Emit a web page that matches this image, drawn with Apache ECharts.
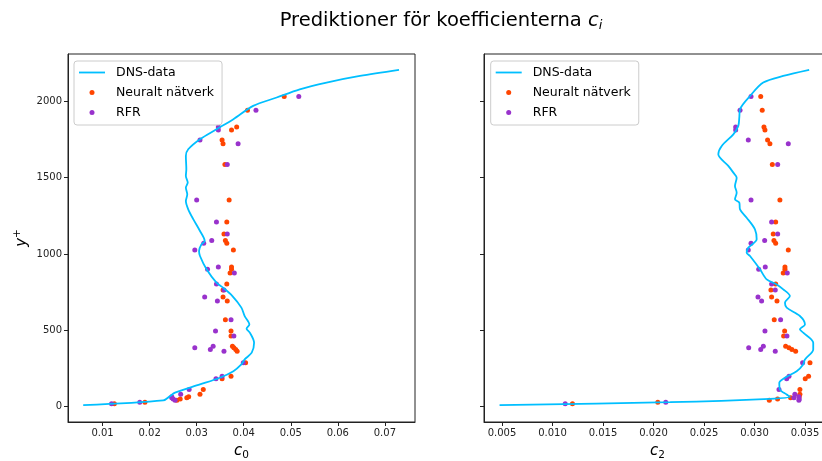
<!DOCTYPE html>
<html>
<head>
<meta charset="utf-8">
<script src="https://cdn.jsdelivr.net/npm/echarts@6/dist/echarts.min.js"></script>
<style>
  html, body { margin: 0; padding: 0; background: #fff; }
  #chart { width: 822px; height: 461px; }
</style>
</head>
<body>
<div id="chart"></div>
<script>
// Test points: y+ positions shared by both coefficient panels
const yPlus = [20, 30, 42, 50, 58, 66, 81, 113, 183, 200, 288, 364, 375, 386, 396, 463, 496, 570,
  692, 718, 764, 804, 876, 900, 915, 1026, 1070, 1088, 1131, 1210, 1354, 1586, 1723, 1747, 1813, 1832, 1942, 2031];

// Predictions of c0
const c0Neural = [0.0125, 0.0190, 0.0258, 0.0265, 0.0279, 0.0283, 0.0307, 0.0314, 0.0354, 0.0373, 0.0404,
  0.0386, 0.0383, 0.0379, 0.0376, 0.0373, 0.0373, 0.0361, 0.0365, 0.0356, 0.0356, 0.0364, 0.0371, 0.0374,
  0.0374, 0.0378, 0.0364, 0.0361, 0.0358, 0.0364, 0.0369, 0.0360, 0.0356, 0.0354, 0.0374, 0.0385, 0.0408, 0.0486];
const c0Rfr = [0.0119, 0.0179, 0.0254, 0.0250, 0.0247, 0.0247, 0.0266, 0.0284, 0.0341, 0.0354, 0.0399,
  0.0358, 0.0329, 0.0296, 0.0335, 0.0379, 0.0340, 0.0373, 0.0344, 0.0317, 0.0358, 0.0342, 0.0380, 0.0323,
  0.0346, 0.0296, 0.0315, 0.0332, 0.0365, 0.0342, 0.0300, 0.0365, 0.0388, 0.0307, 0.0346, 0.0346, 0.0426, 0.0517];

// Predictions of c2
const c2Neural = [0.01198, 0.02043, 0.03147, 0.03229, 0.03358, 0.03443, 0.03450, 0.03450, 0.03503, 0.03536, 0.03550,
  0.03408, 0.03371, 0.03342, 0.03309, 0.03289, 0.03299, 0.03196, 0.03223, 0.03170, 0.03163, 0.03210, 0.03285, 0.03302,
  0.03302, 0.03335, 0.03210, 0.03193, 0.03186, 0.03210, 0.03252, 0.03177, 0.03153, 0.03130, 0.03104, 0.03094, 0.03077, 0.03062];
const c2Rfr = [0.01126, 0.02122, 0.03440, 0.03443, 0.03391, 0.03440, 0.03400, 0.03243, 0.03319, 0.03342, 0.03477,
  0.03206, 0.03062, 0.02943, 0.03088, 0.03322, 0.03104, 0.03259, 0.03071, 0.03035, 0.03206, 0.03170, 0.03325, 0.03042,
  0.03107, 0.02939, 0.02966, 0.03101, 0.03230, 0.03170, 0.02966, 0.03230, 0.03335, 0.02939, 0.02814, 0.02814, 0.02857, 0.02966];

// DNS reference profiles
const dnsY0 = [10, 41, 69, 92, 146, 190, 233, 277, 310, 354, 419, 485, 511, 539, 594, 649, 725, 780, 813, 900, 987,
  1020, 1063, 1085, 1151, 1227, 1293, 1347, 1391, 1435, 1468, 1511, 1555, 1642, 1686, 1752, 1817, 1883, 1970, 2025,
  2079, 2123, 2166, 2206];
const dnsC0 = [0.00588, 0.0229, 0.0243, 0.0254, 0.0307, 0.0349, 0.0378, 0.0395, 0.0402, 0.0417, 0.0422, 0.0413,
  0.0406, 0.0412, 0.0402, 0.0395, 0.0376, 0.0356, 0.0342, 0.0321, 0.0307, 0.0305, 0.0310, 0.0317, 0.0307, 0.0293,
  0.0282, 0.0277, 0.0280, 0.0277, 0.0281, 0.0277, 0.0278, 0.0277, 0.0282, 0.0307, 0.0342, 0.0378, 0.0420, 0.0470,
  0.0519, 0.0576, 0.0647, 0.0730];
const dnsY2 = [10, 30, 52, 65, 80, 113, 157, 190, 233, 277, 310, 375, 419, 485, 507, 539, 594, 649, 681, 725, 769,
  801, 834, 900, 987, 1009, 1042, 1096, 1162, 1238, 1293, 1337, 1359, 1402, 1446, 1500, 1533, 1577, 1653, 1708,
  1784, 1839, 1894, 1948, 2035, 2123, 2166, 2206];
const dnsC2 = [0.00476, 0.02165, 0.03154, 0.03351, 0.03319, 0.03252, 0.03246, 0.03302, 0.03418, 0.03483, 0.03500,
  0.03582, 0.03582, 0.03483, 0.03450, 0.03500, 0.03450, 0.03319, 0.03302, 0.03351, 0.03285, 0.03220, 0.03121,
  0.03055, 0.02956, 0.02923, 0.02940, 0.03022, 0.03005, 0.02923, 0.02857, 0.02850, 0.02807, 0.02824, 0.02807,
  0.02824, 0.02791, 0.02741, 0.02642, 0.02676, 0.02791, 0.02840, 0.02850, 0.02857, 0.02956, 0.03087, 0.03285, 0.03542];

// Tick values
const yTicks = [0, 500, 1000, 1500, 2000];
const c0Ticks = [0.01, 0.02, 0.03, 0.04, 0.05, 0.06, 0.07];
const c2Ticks = [0.005, 0.010, 0.015, 0.020, 0.025, 0.030, 0.035];

const FONT = 'DejaVu Sans';
const INK = '#222';
const COL_DNS = '#00BFFF';
const COL_NN = '#FF4500';
const COL_RFR = '#9932CC';

const zip = (xs, ys) => xs.map((x, i) => [x, ys[i]]);

function xAxisFor(grid, min, max, ticks, digits, sub) {
  return {
    type: 'value', gridIndex: grid, min: min, max: max,
    name: '{i|c}{s|' + sub + '}', nameLocation: 'middle', nameGap: 19,
    nameTextStyle: {
      rich: {
        i: { fontFamily: FONT, fontStyle: 'italic', fontSize: 15, color: '#000' },
        s: { fontFamily: FONT, fontSize: 10.5, color: '#000', padding: [9, 0, 0, 0] }
      }
    },
    splitLine: { show: false },
    axisLine: { show: true, onZero: false, lineStyle: { color: INK, width: 1 } },
    axisTick: { show: true, length: 4, customValues: ticks, lineStyle: { color: INK } },
    axisLabel: {
      customValues: ticks, margin: 6, fontFamily: FONT, fontSize: 10, color: INK,
      formatter: v => v.toFixed(digits)
    }
  };
}

function yAxisFor(grid, withLabels) {
  const ax = {
    type: 'value', gridIndex: grid, min: -100, max: 2310,
    splitLine: { show: false },
    axisLine: { show: true, onZero: false, lineStyle: { color: INK, width: 1 } },
    axisTick: { show: true, length: 4, customValues: yTicks, lineStyle: { color: INK } },
    axisLabel: {
      show: withLabels, customValues: yTicks, margin: 6, fontFamily: FONT, fontSize: 10, color: INK,
      formatter: v => String(Math.round(v))
    }
  };
  if (withLabels) {
    ax.name = '{i|y}{p|+}';
    ax.nameLocation = 'middle';
    ax.nameGap = 36;
    ax.nameRotate = 90;
    ax.nameTextStyle = {
      rich: {
        i: { fontFamily: FONT, fontStyle: 'italic', fontSize: 15, color: '#000' },
        p: { fontFamily: FONT, fontSize: 10.5, color: '#000', padding: [0, 0, 9, 0] }
      }
    };
  }
  return ax;
}

function legendAt(left) {
  return {
    left: left, top: 61, orient: 'vertical',
    padding: [4, 8, 5, 5],
    itemWidth: 26, itemHeight: 5, itemGap: 5,
    symbolKeepAspect: true,
    backgroundColor: 'rgba(255,255,255,0.8)',
    borderColor: '#cccccc', borderWidth: 1, borderRadius: 3,
    textStyle: { fontFamily: FONT, fontSize: 12.5, color: '#000', lineHeight: 15, padding: [0, 0, 0, 6] },
    data: [
      { name: 'DNS-data', icon: 'path://M0,0H26V1.8H0Z' },
      { name: 'Neuralt nätverk', icon: 'circle' },
      { name: 'RFR', icon: 'circle' }
    ],
    selectedMode: false
  };
}

function panelSeries(idx, dnsX, dnsY, nn, rfr) {
  return [
    {
      name: 'DNS-data', type: 'line', xAxisIndex: idx, yAxisIndex: idx,
      data: zip(dnsX, dnsY), showSymbol: false, smooth: 0.3,
      lineStyle: { color: COL_DNS, width: 1.8 }, itemStyle: { color: COL_DNS },
      animation: false
    },
    {
      name: 'Neuralt nätverk', type: 'scatter', xAxisIndex: idx, yAxisIndex: idx,
      data: zip(nn, yPlus), symbolSize: 5, itemStyle: { color: COL_NN, opacity: 1 },
      animation: false
    },
    {
      name: 'RFR', type: 'scatter', xAxisIndex: idx, yAxisIndex: idx,
      data: zip(rfr, yPlus), symbolSize: 5, itemStyle: { color: COL_RFR, opacity: 1 },
      animation: false
    }
  ];
}

const chart = echarts.init(document.getElementById('chart'), null, { renderer: 'canvas' });
chart.setOption({
  backgroundColor: '#fff',
  animation: false,
  title: {
    text: '{t|Prediktioner för koefficienterna }{i|c}{s|i}',
    left: 436, top: 4, textAlign: 'center',
    textStyle: {
      fontWeight: 'normal',
      rich: {
        t: { fontFamily: FONT, fontSize: 19.5, fontWeight: 'normal', color: '#000' },
        i: { fontFamily: FONT, fontSize: 19.5, fontWeight: 'normal', fontStyle: 'italic', color: '#000' },
        s: { fontFamily: FONT, fontSize: 13, fontWeight: 'normal', fontStyle: 'italic', color: '#000', padding: [10, 0, 0, 0] }
      }
    }
  },
  grid: [
    { left: 68, top: 54, width: 347, height: 368, outerBoundsMode: 'none', containLabel: false,
      show: true, borderColor: INK, borderWidth: 1, backgroundColor: 'transparent' },
    { left: 484, top: 54, width: 347, height: 368, outerBoundsMode: 'none', containLabel: false,
      show: true, borderColor: INK, borderWidth: 1, backgroundColor: 'transparent' }
  ],
  xAxis: [
    xAxisFor(0, 0.00265, 0.0764, c0Ticks, 2, '0'),
    xAxisFor(1, 0.00322, 0.03758, c2Ticks, 3, '2')
  ],
  yAxis: [yAxisFor(0, true), yAxisFor(1, false)],
  legend: [legendAt(74), legendAt(490.7)],
  series: [
    ...panelSeries(0, dnsC0, dnsY0, c0Neural, c0Rfr),
    ...panelSeries(1, dnsC2, dnsY2, c2Neural, c2Rfr)
  ]
});
</script>
</body>
</html>
